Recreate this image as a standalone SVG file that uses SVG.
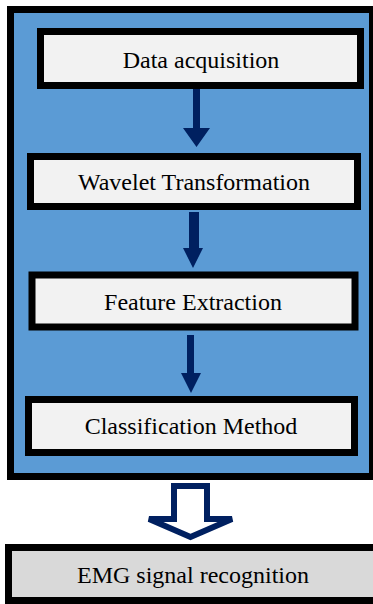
<svg xmlns="http://www.w3.org/2000/svg" width="373" height="604" viewBox="0 0 373 604">
  <style>
    .step { fill: #F2F2F2; stroke: #000; stroke-width: 7; }
    .label { font-family: "Liberation Serif", "Times New Roman", serif; font-size: 24px; fill: #000; text-anchor: middle; }
    .flow { fill: #002060; }
  </style>
  <rect width="373" height="604" fill="#fff"/>
  <!-- processing pipeline frame -->
  <rect id="frame" x="10.5" y="9.5" width="362" height="467" fill="#5B9BD5" stroke="#000" stroke-width="7"/>

  <g id="data-acquisition">
    <rect class="step" x="40.5" y="31.5" width="320" height="54"/>
    <text class="label" x="201" y="68">Data acquisition</text>
  </g>
  <g id="wavelet-transformation">
    <rect class="step" x="30.5" y="156.5" width="327" height="50"/>
    <text class="label" x="194" y="190">Wavelet Transformation</text>
  </g>
  <g id="feature-extraction">
    <rect class="step" x="32" y="275" width="323" height="52"/>
    <text class="label" x="193" y="310">Feature Extraction</text>
  </g>
  <g id="classification-method">
    <rect class="step" x="28.5" y="399.5" width="326" height="53"/>
    <text class="label" x="191" y="434">Classification Method</text>
  </g>
  <g id="emg-signal-recognition">
    <rect x="8.5" y="547.5" width="370" height="53" fill="#D9D9D9" stroke="#000" stroke-width="7"/>
    <text class="label" x="193" y="583">EMG signal recognition</text>
  </g>

  <g id="connectors">
    <polygon class="flow" points="193,89 200,89 200,128 210,128 196.5,147 183,128 193,128"/>
    <polygon class="flow" points="189,212 199,212 199,248 203,248 193,268 183,248 189,248"/>
    <polygon class="flow" points="187,335 194,335 194,373 201,373 191,393 181,373 187,373"/>
    <polygon points="174,486 207,486 207,519 232,519 190.5,537 149,519 174,519" fill="#fff" stroke="#002060" stroke-width="6" stroke-linejoin="miter"/>
  </g>
</svg>
